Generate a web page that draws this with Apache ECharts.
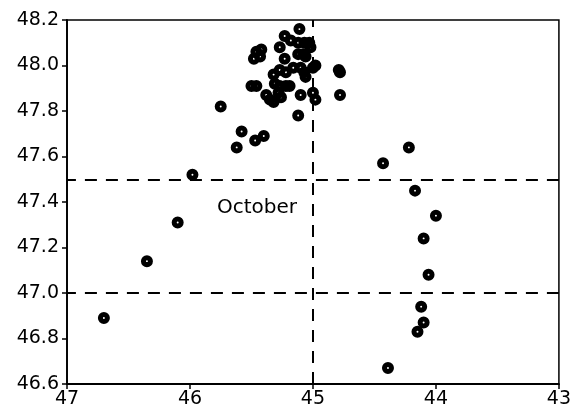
<!DOCTYPE html>
<html>
<head>
<meta charset="utf-8">
<script src="https://cdn.jsdelivr.net/npm/echarts@6/dist/echarts.min.js"></script>
<style>
html,body{margin:0;padding:0;background:#fff;}
#chart{width:574px;height:414px;}
</style>
</head>
<body>
<div id="chart"></div>
<script>
// Longitude (x, degrees) and latitude (y, degrees) of observations
const lon = [46.70,46.35,46.10,45.98,45.75,45.62,45.58,45.47,45.40,
  45.11,45.23,45.18,45.12,45.07,45.03,45.02,45.27,45.46,45.43,45.48,45.42,45.23,45.12,45.08,45.06,
  44.98,45.00,44.79,44.78,45.32,45.27,45.22,45.16,45.10,45.07,45.06,45.50,45.46,45.31,45.27,45.22,45.19,
  45.38,45.35,45.32,45.28,45.26,45.10,45.00,44.98,44.78,45.12,
  44.43,44.22,44.17,44.00,44.10,44.06,44.12,44.10,44.15,44.39];
const lat = [46.89,47.14,47.31,47.52,47.82,47.64,47.71,47.67,47.69,
  48.16,48.13,48.11,48.10,48.10,48.10,48.08,48.08,48.06,48.04,48.03,48.07,48.03,48.05,48.05,48.04,
  48.00,47.99,47.98,47.97,47.96,47.98,47.97,47.99,47.99,47.97,47.95,47.91,47.91,47.92,47.91,47.91,47.91,
  47.87,47.85,47.84,47.88,47.86,47.87,47.88,47.85,47.87,47.78,
  47.57,47.64,47.45,47.34,47.24,47.08,46.94,46.87,46.83,46.67];
const xTicks = [43, 44, 45, 46, 47];
const yTicks = [46.6, 46.8, 47.0, 47.2, 47.4, 47.6, 47.8, 48.0, 48.2];
const hLines = [47.5, 47.0];
const vLines = [45];
const labelText = 'October';

const points = lon.map((x, i) => [x, lat[i]]);
const chart = echarts.init(document.getElementById('chart'));
const font = 'DejaVu Sans, Liberation Sans, Arial, sans-serif';
// ring-shaped dot: filled disc with a small hole (opposite winding)
const dotPath = 'path://M0,-5A5,5 0 1,1 0,5A5,5 0 1,1 0,-5ZM0,-0.8A0.8,0.8 0 1,0 0,0.8A0.8,0.8 0 1,0 0,-0.8Z';
chart.setOption({
  animation: false,
  grid: {left: 67, right: 7, top: 20, bottom: 30, show: true, borderColor: '#000', borderWidth: 1.5},
  xAxis: {
    type: 'value', inverse: true, min: xTicks[0], max: xTicks[xTicks.length-1], interval: 1,
    axisLine: {show: true, lineStyle: {color: '#000', width: 1.8}},
    axisTick: {show: true, length: 5, lineStyle: {color: '#000', width: 1.5}},
    splitLine: {show: false},
    axisLabel: {color: '#000', fontSize: 19, fontFamily: font, margin: 6,
      formatter: v => String(Math.round(v))}
  },
  yAxis: {
    type: 'value', min: yTicks[0], max: yTicks[yTicks.length-1], interval: 0.2,
    axisLine: {show: true, lineStyle: {color: '#000', width: 1.8}},
    axisTick: {show: true, length: 5, lineStyle: {color: '#000', width: 1.5}},
    splitLine: {show: false},
    axisLabel: {color: '#000', fontSize: 19, fontFamily: font, margin: 8,
      formatter: v => v.toFixed(1)}
  },
  series: [{
    type: 'scatter',
    data: points,
    symbol: dotPath,
    symbolSize: 12,
    itemStyle: {color: '#000', opacity: 1},
    markLine: {
      silent: true,
      symbol: ['none', 'none'],
      label: {show: false},
      lineStyle: {color: '#000', type: [12, 9], width: 2},
      data: hLines.map(v => ({yAxis: v})).concat(vLines.map(v => ({xAxis: v})))
    },
    z: 3
  }],
  graphic: [{
    type: 'text', left: 217, top: 198,
    style: {text: labelText, fill: '#000', font: '20px DejaVu Sans, Liberation Sans, sans-serif'}
  }]
});
</script>
</body>
</html>
